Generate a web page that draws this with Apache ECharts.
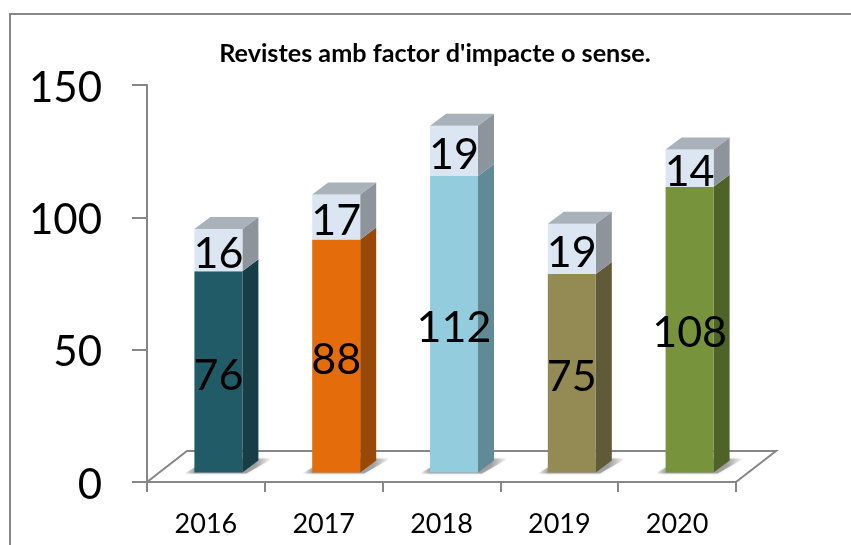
<!DOCTYPE html>
<html>
<head>
<meta charset="utf-8">
<style>html,body{margin:0;padding:0;background:#fff}#c{width:851px;height:545px}</style>
<script src="https://cdn.jsdelivr.net/npm/echarts@6/dist/echarts.min.js"></script>
</head>
<body>
<div id="c"></div>
<script>
const categories = ['2016','2017','2018','2019','2020'];
const withImpact = [76,88,112,75,108];
const withoutImpact = [16,17,19,19,14];
const yTicks = {min:0,max:150,interval:50};
const titleText = "Revistes amb factor d'impacte o sense.";
const frontColors = ['#225B68','#E46C0A','#93CDDD','#948A54','#77933C'];
const sideColors = ['#173E47','#984807','#5F8A96','#5F5A38','#4F6228'];
const capFront = '#DCE6F2', capSide = '#8D949C', capTop = '#A9B1B9';
const axisColor = '#868686';
const FONT = 'Lato, Carlito, Calibri, sans-serif';

const chart = echarts.init(document.getElementById('c'));
const BW = 48, DX = 16, DY = 12, LIFT = 9.5, SHIFT = 12.5;

function face(points, fill){
  return {type:'polygon', shape:{points}, style:{fill}};
}
function box(x, yBot, yTop, f, s, t){
  const r = x + BW;
  const out = [
    face([[r,yBot],[r+DX,yBot-DY],[r+DX,yTop-DY],[r,yTop]], s),
    {type:'rect', shape:{x, y:yTop, width:BW, height:yBot-yTop}, style:{fill:f}}
  ];
  if(t) out.push(face([[x,yTop],[r,yTop],[r+DX,yTop-DY],[x+DX,yTop-DY]], t));
  return out;
}
function barItem(params, api){
  const i = api.value(0);
  const c = api.coord([i,0]);
  const y1 = api.coord([i,api.value(1)])[1] - LIFT;
  const y2 = api.coord([i,api.value(1)+api.value(2)])[1] - LIFT;
  const y0 = c[1] - LIFT;
  const cx = c[0] + SHIFT;
  const x = cx - BW/2;
  const label = (txt, y) => ({type:'text', z2:10, style:{
    text:String(txt), x:cx, y:y+4, align:'center', verticalAlign:'middle',
    fontFamily:FONT, fontSize:43, fill:'#000'}});
  return {type:'group', children:[
    {type:'polygon', shape:{points:[[x-10,y0+1],[x+BW+4,y0+1],[x+BW+DX+14,y0-DY-2],[x+DX,y0-DY-2]]},
     style:{shadowBlur:3, shadowColor:'rgba(120,120,120,.5)',
       fill:{type:'linear',x:0,y:0,x2:1,y2:0,colorStops:[
       {offset:0,color:'rgba(120,120,120,0.05)'},{offset:.12,color:'rgba(120,120,120,.6)'},
       {offset:.8,color:'rgba(120,120,120,.6)'},{offset:1,color:'rgba(120,120,120,0)'}]}}},
    ...box(x, y0, y1, frontColors[i], sideColors[i]),
    ...box(x, y1, y2, capFront, capSide, capTop),
    label(api.value(1), (y0+y1)/2),
    label(api.value(2), (y1+y2)/2)
  ]};
}
function floorItem(params, api){
  const band = api.size([1,0])[0];
  const a = api.coord([0,0]);
  const b = api.coord([categories.length-1,0]);
  const L = a[0]-band/2, R = b[0]+band/2, Y = a[1];
  return {type:'polyline', shape:{points:[[L,Y],[L+40,Y-31],[R+40,Y-31],[R,Y]]},
    style:{fill:'none', stroke:axisColor, lineWidth:2}};
}

chart.setOption({
  animation:false,
  backgroundColor:'#fff',
  title:{text:titleText, left:430, top:36, textAlign:'center',
    textStyle:{fontFamily:FONT,fontSize:25.2,fontWeight:'bold',color:'#000'}},
  graphic:[{type:'polyline', silent:true, shape:{points:[[10,560],[10,14],[860,14]]},
    style:{fill:'none',stroke:axisColor,lineWidth:2}}],
  grid:{left:147,right:115,top:85,bottom:63},
  xAxis:{type:'category',data:categories,
    axisLine:{lineStyle:{color:axisColor,width:2}},
    axisTick:{show:true,length:10,alignWithLabel:false,lineStyle:{color:axisColor,width:2}},
    axisLabel:{margin:29,fontFamily:FONT,fontSize:27,color:'#000'}},
  yAxis:{type:'value',min:yTicks.min,max:yTicks.max,interval:yTicks.interval,
    splitLine:{show:false},
    axisLine:{show:true,lineStyle:{color:axisColor,width:2}},
    axisTick:{show:true,length:15,lineStyle:{color:axisColor,width:2}},
    axisLabel:{margin:45,formatter:'{v|{value}}',
      rich:{v:{padding:[6,0,0,0],fontFamily:FONT,fontSize:42,color:'#000'}}}},
  series:[
    {type:'custom',z:1,silent:true,renderItem:floorItem,data:[[0]],encode:{x:0}},
    {type:'custom',z:3,silent:true,renderItem:barItem,
      data:categories.map((c,i)=>[i,withImpact[i],withoutImpact[i]]),
      encode:{x:0,y:1}}
  ]
});
</script>
</body>
</html>
